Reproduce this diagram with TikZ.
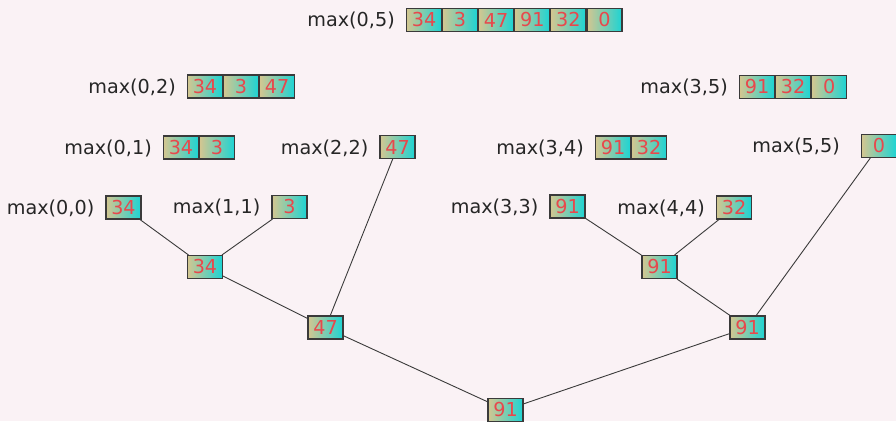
\documentclass[tikz,border=0pt]{standalone}
\usepackage{fontspec}
\setmainfont{DejaVu Sans}
\usepackage{tikz}
\usetikzlibrary{positioning}

\definecolor{bgpink}{HTML}{FAF2F5}
\definecolor{celltan}{HTML}{D4C690}
\definecolor{cellcyan}{HTML}{1CD4D4}
\definecolor{numred}{HTML}{E8484C}
\definecolor{edgegray}{HTML}{3A3A3A}

\begin{document}
\begin{tikzpicture}[
  x=1pt, y=-1pt,
  node distance=0pt,
  cell/.style={draw=edgegray, line width=1.1pt, left color=celltan, right color=cellcyan, minimum width=35pt, minimum height=23pt, inner sep=0pt, text=numred, font=\fontsize{19.2}{21}\selectfont},
  lbl/.style={anchor=base east, inner sep=0pt, text=black!85, font=\fontsize{19.2}{21}\selectfont},
  link/.style={draw=edgegray, line width=0.9pt},
]

% Background
\fill[bgpink] (0,0) rectangle (896,421);
\useasboundingbox (0,0) rectangle (896,421);

% Segment max(0,5)
\node[cell] (m05a) at (424,20) {34};
\node[cell, right=of m05a] (m05b) {3};
\node[cell, right=of m05b] (m05c) {47};
\node[cell, right=of m05c] (m05d) {91};
\node[cell, right=of m05d] (m05e) {32};
\node[cell, right=of m05e] (m05f) {0};
\node[lbl] (l05) at ([xshift=-11pt]m05a.base west) {max(0,5)};

% Segment max(0,2)
\node[cell] (m02a) at (205,86.5) {34};
\node[cell, right=of m02a] (m02b) {3};
\node[cell, right=of m02b] (m02c) {47};
\node[lbl] (l02) at ([xshift=-11pt]m02a.base west) {max(0,2)};

% Segment max(3,5)
\node[cell] (m35a) at (757,87) {91};
\node[cell, right=of m35a] (m35b) {32};
\node[cell, right=of m35b] (m35c) {0};
\node[lbl] (l35) at ([xshift=-11pt]m35a.base west) {max(3,5)};

% Segment max(0,1)
\node[cell] (m01a) at (181,147.5) {34};
\node[cell, right=of m01a] (m01b) {3};
\node[lbl] (l01) at ([xshift=-11pt]m01a.base west) {max(0,1)};

% Segment max(2,2)
\node[cell] (m22) at (397.5,147) {47};
\node[lbl] (l22) at ([xshift=-11pt]m22.base west) {max(2,2)};

% Segment max(3,4)
\node[cell] (m34a) at (613,147.5) {91};
\node[cell, right=of m34a] (m34b) {32};
\node[lbl] (l34) at ([xshift=-11pt]m34a.base west) {max(3,4)};

% Segment max(5,5)
\node[cell] (m55) at (879,146) {0};
\node[lbl] (l55) at ([xshift=-21pt]m55.base west) {max(5,5)};

% Leaves
\node[cell] (m00) at (123.5,207.5) {34};
\node[lbl] (l00) at ([xshift=-11pt]m00.base west) {max(0,0)};
\node[cell] (m11) at (289.5,207) {3};
\node[lbl] (l11) at ([xshift=-11pt]m11.base west) {max(1,1)};
\node[cell] (m33) at (567.5,206.5) {91};
\node[lbl] (l33) at ([xshift=-11pt]m33.base west) {max(3,3)};
\node[cell] (m44) at (734,207.5) {32};
\node[lbl] (l44) at ([xshift=-11pt]m44.base west) {max(4,4)};

% Merge tree
\node[cell] (t01) at (205,267) {34};
\node[cell] (t02) at (325.5,327.5) {47};
\node[cell] (t34) at (659.5,267) {91};
\node[cell] (t35) at (747.5,327.5) {91};
\node[cell] (t05) at (505.5,410) {91};

% Links
\draw[link] (m00) -- (t01);
\draw[link] (m11) -- (t01);
\draw[link] (t01) -- (t02);
\draw[link] (m22) -- (t02);
\draw[link] (t02) -- (t05);
\draw[link] (m33) -- (t34);
\draw[link] (m44) -- (t34);
\draw[link] (t34) -- (t35);
\draw[link] (m55) -- (t35);
\draw[link] (t35) -- (t05);

\end{tikzpicture}
\end{document}
